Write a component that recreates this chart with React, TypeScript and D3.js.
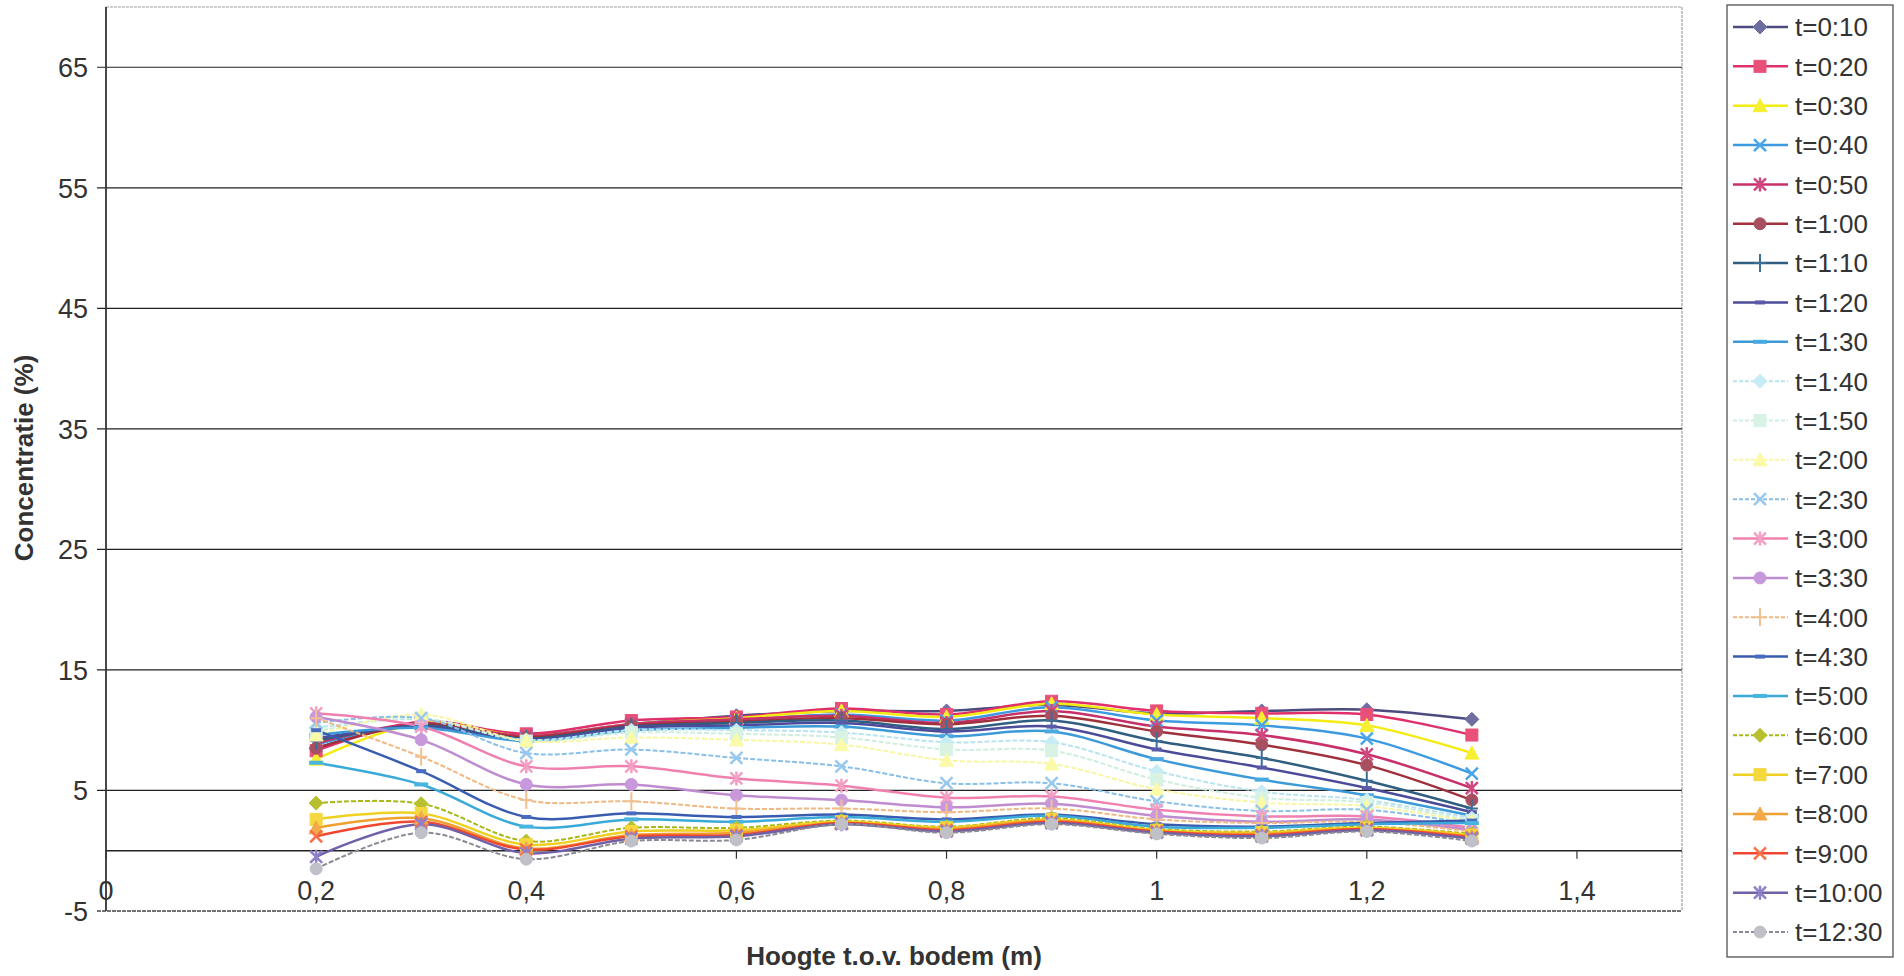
import React from "react";
import * as d3 from "d3";

const X_VALUES = [0.2, 0.3, 0.4, 0.5, 0.6, 0.7, 0.8, 0.9, 1.0, 1.1, 1.2, 1.3];
const X_TICKS = [0, 0.2, 0.4, 0.6, 0.8, 1.0, 1.2, 1.4];
const Y_TICKS = [-5, 5, 15, 25, 35, 45, 55, 65];

const SERIES_NAMES = [
  "t=0:10", "t=0:20", "t=0:30", "t=0:40", "t=0:50", "t=1:00", "t=1:10", "t=1:20",
  "t=1:30", "t=1:40", "t=1:50", "t=2:00", "t=2:30", "t=3:00", "t=3:30", "t=4:00",
  "t=4:30", "t=5:00", "t=6:00", "t=7:00", "t=8:00", "t=9:00", "t=10:00", "t=12:30",
];

const t0010 = [8.5, 10.6, 9.6, 10.5, 11.2, 11.6, 11.6, 12.1, 11.4, 11.6, 11.7, 10.9];
const t0020 = [8.3, 10.7, 9.7, 10.8, 11.1, 11.8, 11.3, 12.4, 11.6, 11.4, 11.3, 9.6];
const t0030 = [7.6, 10.6, 9.5, 10.5, 11.0, 11.6, 11.1, 12.2, 11.3, 11.0, 10.4, 8.1];
const t0040 = [8.8, 10.5, 9.4, 10.4, 10.8, 11.3, 10.8, 11.9, 10.8, 10.4, 9.3, 6.4];
const t0050 = [8.9, 10.6, 9.5, 10.5, 10.9, 11.2, 10.6, 11.6, 10.3, 9.6, 8.0, 5.2];
const t0100 = [8.5, 10.5, 9.4, 10.4, 10.7, 11.0, 10.5, 11.2, 9.9, 8.8, 7.1, 4.2];
const t0110 = [9.1, 10.4, 9.3, 10.3, 10.6, 10.8, 10.1, 10.8, 9.1, 7.7, 5.8, 3.5];
const t0120 = [9.3, 10.3, 9.2, 10.2, 10.4, 10.6, 9.9, 10.3, 8.4, 6.9, 5.2, 3.2];
const t0130 = [9.6, 10.2, 9.1, 10.0, 10.2, 10.3, 9.5, 9.9, 7.6, 5.9, 4.6, 2.9];
const t0140 = [10.2, 10.9, 9.2, 10.0, 10.0, 9.8, 9.0, 9.0, 6.6, 4.9, 4.2, 2.7];
const t0150 = [9.9, 11.0, 9.1, 9.8, 9.7, 9.4, 8.4, 8.3, 5.9, 4.4, 4.0, 2.5];
const t0200 = [9.6, 11.3, 9.1, 9.4, 9.2, 8.8, 7.5, 7.2, 5.1, 4.0, 3.7, 2.4];
const t0230 = [10.6, 11.0, 8.1, 8.4, 7.7, 7.0, 5.6, 5.6, 4.1, 3.3, 3.4, 2.2];
const t0300 = [11.4, 10.3, 7.0, 7.0, 6.0, 5.4, 4.4, 4.5, 3.4, 2.85, 2.85, 1.9];
const t0330 = [11.1, 9.2, 5.5, 5.5, 4.6, 4.2, 3.6, 3.9, 2.9, 2.4, 2.6, 1.7];
const t0400 = [11.0, 7.8, 4.2, 4.1, 3.5, 3.5, 3.2, 3.5, 2.6, 2.3, 2.4, 1.6];
const t0430 = [10.0, 6.6, 2.8, 3.1, 2.8, 3.0, 2.6, 3.0, 2.2, 2.0, 2.3, 2.5];
const t0500 = [7.3, 5.5, 2.0, 2.6, 2.4, 2.8, 2.4, 2.9, 2.0, 1.9, 2.2, 2.3];
const t0600 = [3.95, 3.9, 0.8, 1.9, 1.9, 2.5, 2.0, 2.7, 1.8, 1.6, 2.0, 1.4];
const t0700 = [2.6, 3.1, 0.5, 1.6, 1.7, 2.4, 1.9, 2.6, 1.7, 1.5, 1.9, 1.3];
const t0800 = [1.9, 2.7, 0.2, 1.3, 1.5, 2.3, 1.8, 2.5, 1.6, 1.4, 1.8, 1.2];
const t0900 = [1.2, 2.4, 0.1, 1.2, 1.3, 2.3, 1.7, 2.4, 1.6, 1.3, 1.8, 1.1];
const t1000 = [-0.5, 2.2, -0.2, 1.0, 1.2, 2.2, 1.6, 2.3, 1.5, 1.2, 1.7, 1.0];
const t1230 = [-1.5, 1.5, -0.7, 0.8, 0.9, 2.2, 1.5, 2.2, 1.4, 1.05, 1.6, 0.8];

const SERIES_VALUES = [
  t0010, t0020, t0030, t0040, t0050, t0100, t0110, t0120, t0130, t0140, t0150, t0200,
  t0230, t0300, t0330, t0400, t0430, t0500, t0600, t0700, t0800, t0900, t1000, t1230,
];

const LINE_COLORS = [
  "#4b4b80", "#e0306a", "#f2ec10", "#3b9ae0", "#c8306a", "#a0303c", "#2f5e80", "#4b4b9a",
  "#3c9ad8", "#b8e4f0", "#cfeedd", "#f8f6a0", "#88c0e8", "#f080b0", "#c08cd0", "#f0b880",
  "#3a5cb0", "#3aaad8", "#a8b818", "#f0d020", "#f0a030", "#f04830", "#7060a8", "#8a8a94",
];
const MARKER_COLORS = [
  "#6e6ea0", "#e8507a", "#f6f030", "#4aa4e8", "#d04880", "#a85060", "#3c6e9a", "#5a5aa8",
  "#4aa8e0", "#c8ecf4", "#d8f2e4", "#fafaa8", "#98c8ee", "#f4a0c4", "#c898dc", "#f0c090",
  "#4a6cc0", "#4ab4e0", "#b8c030", "#f4d840", "#f4a848", "#f87048", "#9080c8", "#c0c0c8",
];
const MARKERS = [
  "diamond", "square", "triangle", "x", "star", "circle", "plus", "dot",
  "dash", "diamond", "square", "triangle", "x", "star", "circle", "plus",
  "dot", "dash", "diamond", "square", "triangle", "x", "star", "circle",
];
const DASHED = [
  false, false, false, false, false, false, false, false,
  false, true, true, true, true, false, false, true,
  false, false, true, false, false, false, false, true,
];

const W = 1904;
const H = 976;
const PLOT_LEFT = 106;
const PLOT_RIGHT = 1682;
const PLOT_TOP = 7;
const PLOT_BOTTOM = 911;
const FONT = "'Liberation Sans', Arial, sans-serif";

function Marker({ type, cx, cy, color }: { type: string; cx: number; cy: number; color: string }) {
  const r = 6;
  const t = `translate(${cx},${cy})`;
  switch (type) {
    case "diamond":
      return <path transform={t} d={`M0,${-r - 1}L${r + 1},0L0,${r + 1}L${-r - 1},0Z`} fill={color} stroke={color} />;
    case "square":
      return <rect transform={t} x={-r} y={-r} width={2 * r} height={2 * r} fill={color} stroke={color} />;
    case "triangle":
      return <path transform={t} d={`M0,${-r - 1}L${r + 1},${r}L${-r - 1},${r}Z`} fill={color} stroke={color} />;
    case "x":
      return <path transform={t} d={`M${-r},${-r}L${r},${r}M${r},${-r}L${-r},${r}`} stroke={color} strokeWidth={2.5} fill="none" />;
    case "star":
      return (
        <path
          transform={t}
          d={`M${-r},${-r}L${r},${r}M${r},${-r}L${-r},${r}M0,${-r - 1}L0,${r + 1}`}
          stroke={color}
          strokeWidth={2.5}
          fill="none"
        />
      );
    case "circle":
      return <circle cx={cx} cy={cy} r={r} fill={color} stroke={color} />;
    case "plus":
      return <path transform={t} d={`M${-r},0L${r},0M0,${-r - 3}L0,${r + 3}`} stroke={color} strokeWidth={2} fill="none" />;
    case "dot":
      return <rect transform={t} x={-5} y={-2} width={10} height={4} fill={color} />;
    case "dash":
      return <rect transform={t} x={-7} y={-2} width={14} height={4} fill={color} />;
    default:
      return null;
  }
}

export default function App() {
  const x = d3.scaleLinear().domain([0, 1.5]).range([PLOT_LEFT, PLOT_RIGHT]);
  const y = d3.scaleLinear().domain([-5, 70]).range([PLOT_BOTTOM, PLOT_TOP]);

  const line = d3
    .line<number>()
    .x((_, i) => x(X_VALUES[i]))
    .y((d) => y(d))
    .curve(d3.curveCatmullRom.alpha(0.5));

  const legendX = 1727;
  const legendY = 5;
  const legendW = 166;
  const legendH = 952;
  const itemY0 = 27;
  const itemStep = 39.35;

  return (
    <svg
      width={W}
      height={H}
      style={{ position: "absolute", left: 0, top: 0, background: "#fff" }}
      fontFamily={FONT}
    >
      <rect x={0} y={0} width={W} height={H} fill="#fff" />

      {/* plot frame */}
      <line x1={PLOT_LEFT} x2={PLOT_RIGHT} y1={PLOT_TOP} y2={PLOT_TOP} stroke="#9a9a9a" strokeWidth={1} strokeDasharray="3,1" />
      <line x1={PLOT_RIGHT} x2={PLOT_RIGHT} y1={PLOT_TOP} y2={PLOT_BOTTOM} stroke="#8a8a8a" strokeWidth={1} strokeDasharray="3,1" />

      {/* gridlines + y ticks */}
      {Y_TICKS.map((v) => (
        <g key={v}>
          <line
            x1={PLOT_LEFT - 9}
            x2={PLOT_RIGHT}
            y1={y(v)}
            y2={y(v)}
            stroke={v === -5 ? "#444" : "#222"}
            strokeWidth={v === -5 ? 1.5 : 1.2}
            strokeDasharray={v === -5 ? "4,1" : undefined}
          />
          <text
            x={88}
            y={y(v)}
            dy="0.36em"
            textAnchor="end"
            fontSize={27}
            fill="#333"
          >
            {String(v)}
          </text>
        </g>
      ))}

      {/* x axis at 0 */}
      <line x1={PLOT_LEFT} x2={PLOT_RIGHT} y1={y(0)} y2={y(0)} stroke="#222" strokeWidth={1.5} />
      {X_TICKS.map((v) => (
        <g key={v}>
          <line x1={x(v)} x2={x(v)} y1={y(0)} y2={y(0) + 8} stroke="#333" strokeWidth={1.2} />
          <text x={x(v)} y={900} textAnchor="middle" fontSize={27} fill="#333">
            {String(v).replace(".", ",")}
          </text>
        </g>
      ))}

      {/* y axis */}
      <line x1={PLOT_LEFT} x2={PLOT_LEFT} y1={PLOT_TOP} y2={PLOT_BOTTOM} stroke="#333" strokeWidth={1.8} />

      {/* series lines */}
      {SERIES_VALUES.map((vals, si) => (
        <path
          key={"l" + si}
          d={line(vals) || ""}
          fill="none"
          stroke={LINE_COLORS[si]}
          strokeWidth={DASHED[si] ? 2 : 2.5}
          strokeDasharray={DASHED[si] ? "5,2" : undefined}
        />
      ))}
      {/* series markers */}
      {SERIES_VALUES.map((vals, si) => (
        <g key={"m" + si}>
          {vals.map((v, i) => (
            <Marker key={i} type={MARKERS[si]} cx={x(X_VALUES[i])} cy={y(v)} color={MARKER_COLORS[si]} />
          ))}
        </g>
      ))}

      {/* axis titles */}
      <text x={894} y={965} textAnchor="middle" fontSize={26} fontWeight="bold" fill="#333">
        Hoogte t.o.v. bodem (m)
      </text>
      <text
        transform={`translate(33,458) rotate(-90)`}
        textAnchor="middle"
        fontSize={26}
        fontWeight="bold"
        fill="#333"
      >
        Concentratie (%)
      </text>

      {/* legend */}
      <rect x={legendX} y={legendY} width={legendW} height={legendH} fill="#fff" stroke="#444" strokeWidth={1.2} />
      {SERIES_NAMES.map((name, si) => {
        const cy = itemY0 + si * itemStep;
        return (
          <g key={"lg" + si}>
            <line
              x1={1733}
              x2={1788}
              y1={cy}
              y2={cy}
              stroke={LINE_COLORS[si]}
              strokeWidth={DASHED[si] ? 2 : 2.5}
              strokeDasharray={DASHED[si] ? "4,2" : undefined}
            />
            <Marker type={MARKERS[si]} cx={1760} cy={cy} color={MARKER_COLORS[si]} />
            <text x={1795} y={cy} dy="0.36em" fontSize={26} fill="#333">
              {name}
            </text>
          </g>
        );
      })}
    </svg>
  );
}
